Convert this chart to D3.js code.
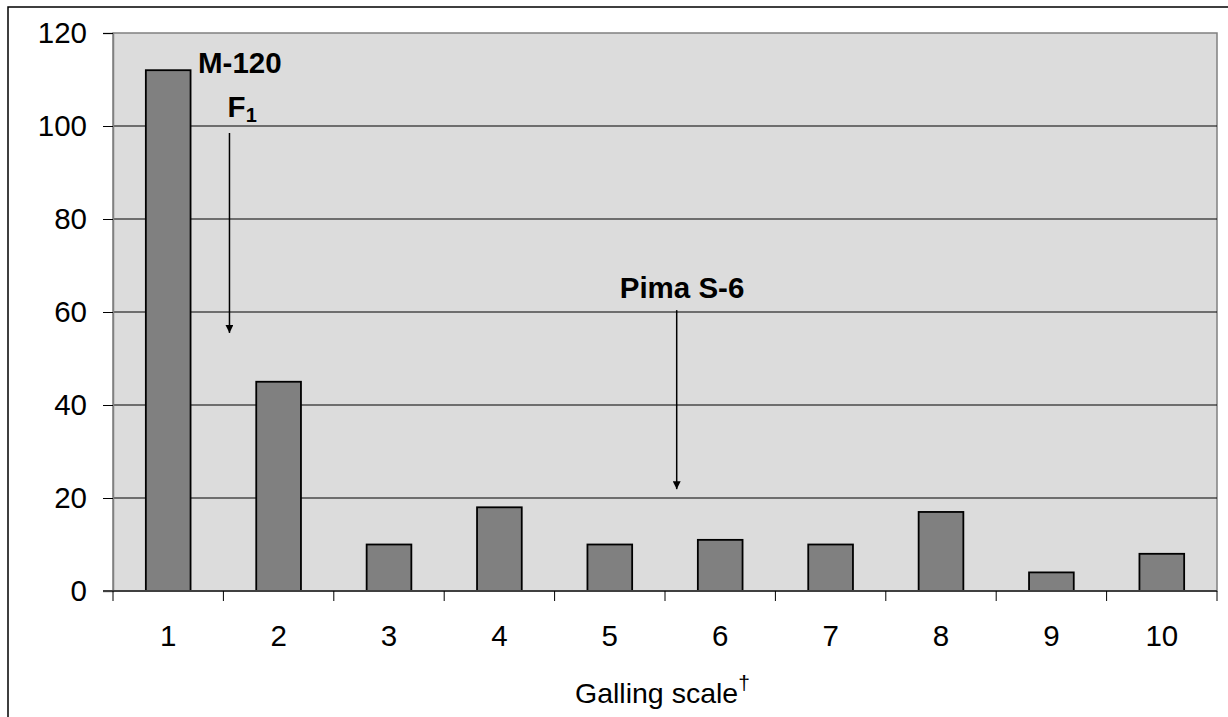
<!DOCTYPE html>
<html>
<head>
<meta charset="utf-8">
<script src="https://cdn.jsdelivr.net/npm/d3@7/dist/d3.min.js"></script>
<style>
  html, body { margin: 0; padding: 0; background: #fff; }
  svg { display: block; }
  text { font-family: "Liberation Sans", Arial, sans-serif; fill: #000; }
</style>
</head>
<body>
<script>
// ---- data ----
const categories = ["1","2","3","4","5","6","7","8","9","10"];
const counts = [112, 45, 10, 18, 10, 11, 10, 17, 4, 8];
const yTicks = [0, 20, 40, 60, 80, 100, 120];
const xTitle = "Galling scale";
// annotations (in data units: galling-scale position, count)
const labels = [
  {text: "M-120", x: 1.27, y: 111.4},
  {text: "F", sub: "1", x: 1.538, y: 101.9},
  {text: "Pima S-6", x: 5.09, y: 63}
];
const arrows = [
  {x: 1.555, from: 98.5, to: 55.5},
  {x: 5.606, from: 60.4, to: 21.9}
];

const W = 1228, H = 717;
const margin = {left: 113, right: 11, top: 33, bottom: 126};
const svg = d3.select("body").append("svg").attr("width", W).attr("height", H);

// outer frame
svg.append("rect").attr("x", 8).attr("y", 7).attr("width", W + 20).attr("height", H + 20)
  .attr("fill", "#fff").attr("stroke", "#000").attr("stroke-width", 1.5);

const x0 = margin.left, x1 = W - margin.right, y0 = H - margin.bottom, y1 = margin.top;
const x = d3.scaleBand().domain(categories).range([x0, x1]).padding(0);
const xLin = d3.scaleLinear().domain([0.5, 10.5]).range([x0, x1]);
const y = d3.scaleLinear().domain([0, 120]).range([y0, y1]);

// plot area
svg.append("rect").attr("x", x0).attr("y", y1).attr("width", x1 - x0).attr("height", y0 - y1)
  .attr("fill", "#dcdcdc").attr("stroke", "#808080").attr("stroke-width", 1.5);

// gridlines
svg.append("g").selectAll("line").data(yTicks.filter(d => d > 0 && d < 120)).join("line")
  .attr("x1", x0).attr("x2", x1).attr("y1", d => y(d)).attr("y2", d => y(d))
  .attr("stroke", "#000").attr("stroke-width", 1);

// bars
const bw = x.bandwidth() * 0.405;
svg.append("g").selectAll("rect").data(counts).join("rect")
  .attr("x", (d, i) => x(categories[i]) + x.bandwidth() / 2 - bw / 2)
  .attr("y", d => y(d))
  .attr("width", bw)
  .attr("height", d => y(0) - y(d))
  .attr("fill", "#808080").attr("stroke", "#000").attr("stroke-width", 1.8);

// y axis
const yAxis = d3.axisLeft(y).tickValues(yTicks).tickSize(10).tickPadding(16);
const gy = svg.append("g").attr("transform", `translate(${x0},0)`).call(yAxis);
gy.select(".domain").attr("stroke", "#808080").attr("stroke-width", 1.5);
gy.selectAll(".tick line").attr("stroke", "#000").attr("stroke-width", 1);
gy.selectAll(".tick text").attr("font-size", 29.5).attr("font-family", "Liberation Sans, Arial, sans-serif");

// x axis
const xAxis = d3.axisBottom(x).tickSize(0).tickPadding(34);
const gx = svg.append("g").attr("transform", `translate(0,${y0})`).call(xAxis);
gx.select(".domain").remove();
gx.selectAll(".tick text").attr("font-size", 29.5).attr("font-family", "Liberation Sans, Arial, sans-serif");
svg.append("line").attr("x1", x0 - 10).attr("x2", x1).attr("y1", y0).attr("y2", y0)
  .attr("stroke", "#404040").attr("stroke-width", 2);
// tick marks at band boundaries
const bounds = categories.map(c => x(c)).concat([x1]);
svg.append("g").selectAll("line").data(bounds).join("line")
  .attr("x1", d => d).attr("x2", d => d).attr("y1", y0).attr("y2", y0 + 10)
  .attr("stroke", "#000").attr("stroke-width", 1);

// x title
const t = svg.append("text").attr("x", 575).attr("y", 703).attr("font-size", 28.5);
t.append("tspan").text(xTitle);
t.append("tspan").text("†").attr("font-size", 21).attr("dy", -13);

// labels
labels.forEach(l => {
  const tx = svg.append("text").attr("x", xLin(l.x)).attr("y", y(l.y))
    .attr("font-size", 29.5).attr("font-weight", "bold");
  tx.append("tspan").text(l.text);
  if (l.sub) tx.append("tspan").text(l.sub).attr("font-size", 20).attr("dy", 5);
});

// arrows
const defs = svg.append("defs");
defs.append("marker").attr("id", "ah").attr("viewBox", "0 0 10 10")
  .attr("refX", 10).attr("refY", 5).attr("markerWidth", 8).attr("markerHeight", 8)
  .attr("markerUnits", "userSpaceOnUse").attr("orient", "auto")
  .append("path").attr("d", "M0,0 L10,5 L0,10 Z").attr("fill", "#000");
svg.append("g").selectAll("line").data(arrows).join("line")
  .attr("x1", d => xLin(d.x)).attr("x2", d => xLin(d.x))
  .attr("y1", d => y(d.from)).attr("y2", d => y(d.to))
  .attr("stroke", "#000").attr("stroke-width", 1.5).attr("marker-end", "url(#ah)");
</script>
</body>
</html>
